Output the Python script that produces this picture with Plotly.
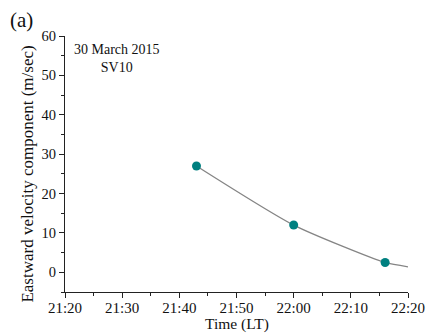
import plotly.graph_objects as go

# Observed eastward drift velocities (SV10, 30 March 2015)
obs_times = ["2015-03-30 21:43", "2015-03-30 22:00", "2015-03-30 22:16"]
obs_values = [27.0, 12.0, 2.5]

# Smooth trend line through the observations, extended to 22:20
fit_times = ["2015-03-30 21:43", "2015-03-30 22:00", "2015-03-30 22:16", "2015-03-30 22:20"]
fit_values = [27.0, 12.0, 2.5, 1.4]

x_range = ["2015-03-30 21:20", "2015-03-30 22:20"]
y_range = [-5, 60]

serif = "Liberation Serif, Times New Roman, serif"

fig = go.Figure()
fig.add_trace(go.Scatter(
    x=fit_times, y=fit_values, mode="lines",
    line=dict(color="#858585", width=1.3, shape="spline", smoothing=0.6),
    hoverinfo="skip", showlegend=False,
))
fig.add_trace(go.Scatter(
    x=obs_times, y=obs_values, mode="markers",
    marker=dict(color="#008080", size=9),
    showlegend=False,
))

axis_common = dict(
    showgrid=False, zeroline=False, showline=True, linecolor="#222", linewidth=1,
    ticks="outside", ticklen=5, tickcolor="#222", tickwidth=1,
    mirror=False, automargin=False,
)

fig.update_xaxes(
    **axis_common, type="date", range=x_range,
    tickformat="%H:%M", dtick=600000, tick0="2015-03-30 21:20",
    tickfont=dict(family=serif, size=15, color="#111"), ticklabelstandoff=-3,
    minor=dict(ticks="outside", ticklen=3, dtick=300000, tickcolor="#222"),
)
fig.update_yaxes(
    **axis_common, range=y_range, tickvals=[0, 10, 20, 30, 40, 50, 60],
    tickfont=dict(family=serif, size=14.5, color="#111"),
    minor=dict(ticks="outside", ticklen=3, tickvals=[-5, 5, 15, 25, 35, 45, 55], tickcolor="#222"),
)

# Axis titles
fig.add_annotation(x=0.5, y=-0.125, xref="paper", yref="paper", showarrow=False,
                   text="Time (LT)", xanchor="center", yanchor="middle",
                   font=dict(family=serif, size=15.5, color="#111"))
fig.add_annotation(x=-0.109, y=0.461, xref="paper", yref="paper", showarrow=False,
                   text="Eastward velocity component (m/sec)", textangle=-90,
                   xanchor="center", yanchor="middle",
                   font=dict(family=serif, size=17, color="#111"))

fig.add_annotation(x=0.152, y=0.985, xref="paper", yref="paper", showarrow=False,
                   text="30 March 2015<br>SV10", align="center", xanchor="center", yanchor="top",
                   font=dict(family=serif, size=14, color="#111"))
fig.add_annotation(x=-0.166, y=1.0625, xref="paper", yref="paper", showarrow=False,
                   text="(a)", xanchor="left", yanchor="middle",
                   font=dict(family=serif, size=21, color="#111"))

fig.update_layout(
    width=426, height=335,
    margin=dict(l=65, r=18, t=36, b=43),
    paper_bgcolor="white", plot_bgcolor="white",
)

fig.write_html("out.html")
